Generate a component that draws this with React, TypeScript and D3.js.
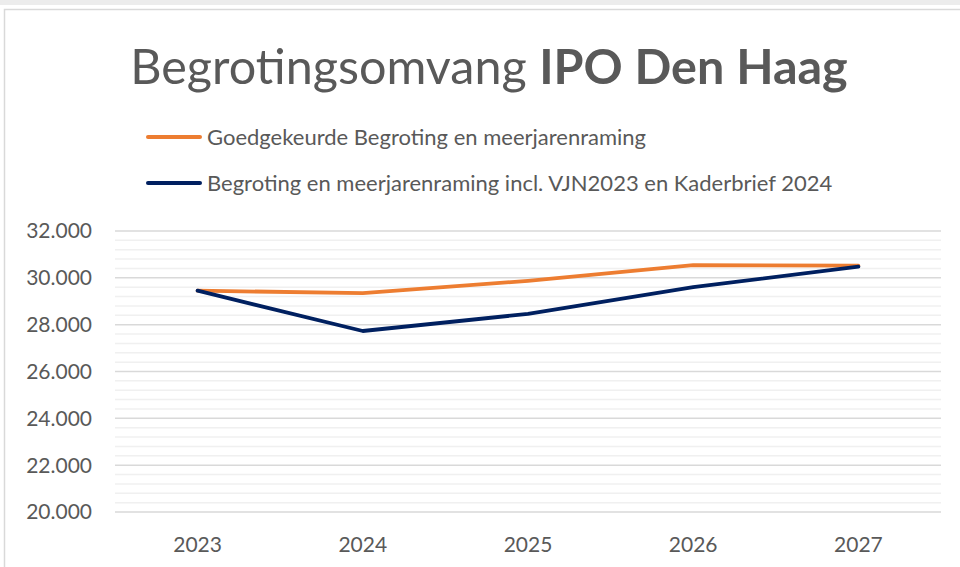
import React from "react";
import * as d3 from "d3";

const years = ["2023", "2024", "2025", "2026", "2027"];
const goedgekeurd = [29450, 29350, 29870, 30540, 30520];
const inclVJN = [29450, 27730, 28460, 29600, 30480];
const yMajorTicks = [20000, 22000, 24000, 26000, 28000, 30000, 32000];
const seriesNames = [
  "Goedgekeurde Begroting en meerjarenraming",
  "Begroting en meerjarenraming incl. VJN2023 en Kaderbrief 2024",
];
const seriesColors = ["#ED7D31", "#002060"];

const W = 960;
const H = 567;
const plot = { left: 115, right: 941, top: 231, bottom: 512 };
const FONT = "Lato, 'Open Sans', sans-serif";
const TEXT = "#595959";

export default function App() {
  const x = d3.scaleBand<string>().domain(years).range([plot.left, plot.right]);
  const y = d3.scaleLinear().domain([20000, 32000]).range([plot.bottom, plot.top]);
  const minorTicks = d3.range(20000, 32001, 400).filter((v) => v % 2000 !== 0);
  const line = d3
    .line<number>()
    .x((_, i) => (x(years[i]) as number) + x.bandwidth() / 2)
    .y((d) => y(d));
  const series = [goedgekeurd, inclVJN];

  return (
    <svg
      width={W}
      height={H}
      style={{ position: "absolute", left: 0, top: 0, background: "#fff" }}
      fontFamily={FONT}
    >
      <rect x={0} y={0} width={W} height={H} fill="#fff" />
      <rect x={0} y={0} width={W} height={5} fill="#ececec" />
      <rect x={4.5} y={9.5} width={1200} height={1200} fill="#fff" stroke="#d9d9d9" strokeWidth={1.5} />

      <text x={489} y={84} textAnchor="middle" fontSize={48.5} fill={TEXT}>
        <tspan>Begrotingsomvang </tspan>
        <tspan fontWeight="bold">IPO Den Haag</tspan>
      </text>

      {seriesNames.map((name, i) => (
        <g key={name} transform={`translate(148, ${137 + i * 46})`}>
          <line x1={0} x2={52} y1={0} y2={0} stroke={seriesColors[i]} strokeWidth={4} strokeLinecap="round" />
          <text x={59} y={0} dy="0.35em" fontSize={22} fill={TEXT}>
            {name}
          </text>
        </g>
      ))}

      {minorTicks.map((v) => (
        <line key={"m" + v} x1={plot.left} x2={plot.right} y1={y(v)} y2={y(v)} stroke="#f0f0f0" strokeWidth={1.5} />
      ))}
      {yMajorTicks.map((v) => (
        <line key={"M" + v} x1={plot.left} x2={plot.right} y1={y(v)} y2={y(v)} stroke="#d9d9d9" strokeWidth={1.5} />
      ))}
      {yMajorTicks.map((v) => (
        <text key={"t" + v} x={92} y={y(v)} dy="0.35em" textAnchor="end" fontSize={21} fill={TEXT}>
          {d3.format(",")(v).replace(",", ".")}
        </text>
      ))}
      {years.map((yr) => (
        <text
          key={yr}
          x={(x(yr) as number) + x.bandwidth() / 2}
          y={545}
          dy="0.35em"
          textAnchor="middle"
          fontSize={21}
          fill={TEXT}
        >
          {yr}
        </text>
      ))}

      {series.map((s, i) => (
        <path
          key={i}
          d={line(s) as string}
          fill="none"
          stroke={seriesColors[i]}
          strokeWidth={3.8}
          strokeLinecap="round"
          strokeLinejoin="round"
        />
      ))}
    </svg>
  );
}
